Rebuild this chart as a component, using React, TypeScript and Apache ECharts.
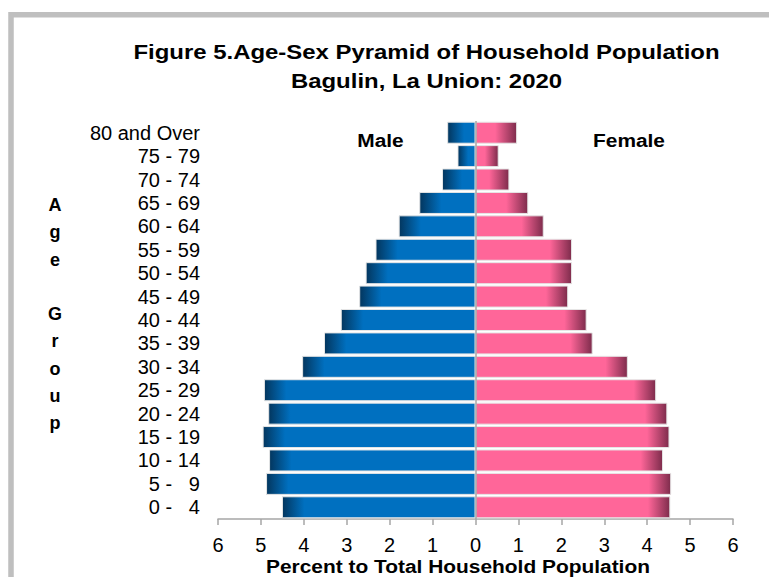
import React, { useEffect, useRef } from 'react';
import * as echarts from 'echarts';

const ageGroups = [
  '0 -   4', '5 -   9', '10 - 14', '15 - 19', '20 - 24', '25 - 29', '30 - 34', '35 - 39',
  '40 - 44', '45 - 49', '50 - 54', '55 - 59', '60 - 64', '65 - 69', '70 - 74', '75 - 79', '80 and Over',
];
const malePct = [4.51, 4.88, 4.81, 4.96, 4.83, 4.93, 4.04, 3.53, 3.14, 2.71, 2.56, 2.33, 1.79, 1.31, 0.78, 0.42, 0.66];
const femalePct = [4.54, 4.56, 4.37, 4.52, 4.47, 4.21, 3.55, 2.73, 2.59, 2.16, 2.25, 2.25, 1.59, 1.23, 0.79, 0.54, 0.97];

const titleLines = ['Figure 5.Age-Sex Pyramid of Household Population', 'Bagulin, La Union: 2020'];
const xAxisTitle = 'Percent to Total Household Population';
const yAxisTitle = 'A\ng\ne\n\nG\nr\no\nu\np';

const FONT = '"Liberation Sans", Arial, sans-serif';
const GRID = { left: 218, right: 36, top: 121, bottom: 58 };
const X_MAX = 6;
const PX_PER_UNIT = (769 - GRID.left - GRID.right) / (2 * X_MAX);
const FADE_PX = 22;

function maleColor(v: number) {
  const s = Math.min(FADE_PX / (v * PX_PER_UNIT), 0.6);
  return new echarts.graphic.LinearGradient(0, 0, 1, 0, [
    { offset: 0, color: '#03365e' },
    { offset: s, color: '#0070c0' },
    { offset: 1, color: '#0070c0' },
  ]);
}
function femaleColor(v: number) {
  const s = Math.min(FADE_PX / (v * PX_PER_UNIT), 0.6);
  return new echarts.graphic.LinearGradient(0, 0, 1, 0, [
    { offset: 0, color: '#ff6699' },
    { offset: 1 - s, color: '#ff6699' },
    { offset: 1, color: '#7e2c4c' },
  ]);
}

export default function App() {
  const ref = useRef<HTMLDivElement>(null);
  useEffect(() => {
    if (!ref.current) return;
    const chart = echarts.init(ref.current, null, { renderer: 'svg' });
    const option: any = {
      animation: false,
      backgroundColor: '#ffffff',
      textStyle: { fontFamily: FONT },
      grid: { ...GRID, containLabel: false },
      xAxis: {
        type: 'value',
        min: -X_MAX,
        max: X_MAX,
        interval: 1,
        axisLine: { show: true, lineStyle: { color: '#a6a6a6', width: 1.5 } },
        axisTick: { show: true, length: 6, lineStyle: { color: '#a6a6a6', width: 1.5 } },
        splitLine: { show: false },
        axisLabel: {
          color: '#000',
          fontSize: 20,
          fontFamily: FONT,
          margin: 16,
          formatter: (v: number) => String(Math.abs(v)),
        },
      },
      yAxis: {
        type: 'category',
        data: ageGroups,
        axisLine: { show: false },
        axisTick: { show: false },
        splitLine: { show: false },
        axisLabel: { color: '#000', fontSize: 20, fontFamily: FONT, margin: 18, align: 'right', interval: 0 },
      },
      series: [
        {
          name: 'Male',
          type: 'bar',
          stack: 'pop',
          barCategoryGap: '6%',
          data: malePct.map((v) => ({
            value: -v,
            itemStyle: { color: maleColor(v), borderColor: '#e6e6e6', borderWidth: 1 },
          })),
          markLine: {
            silent: true,
            symbol: ['none', 'none'],
            label: { show: false },
            lineStyle: { color: '#a6a6a6', width: 1.5, type: 'solid' },
            data: [{ xAxis: 0 }],
          },
        },
        {
          name: 'Female',
          type: 'bar',
          stack: 'pop',
          barCategoryGap: '6%',
          data: femalePct.map((v) => ({
            value: v,
            itemStyle: { color: femaleColor(v), borderColor: '#e6e6e6', borderWidth: 1 },
          })),
        },
      ],
      graphic: [
        {
          type: 'rect',
          silent: true,
          z: -10,
          shape: { x: 11, y: 14.8, width: 1200, height: 1200 },
          style: { fill: 'none', stroke: '#bfbfbf', lineWidth: 5.5 },
        },
        {
          type: 'text', x: 426.5, y: 52.5, scaleX: 1.14,
          style: { text: titleLines[0], font: `bold 21px ${FONT}`, fill: '#000', textAlign: 'center', textVerticalAlign: 'middle' },
        },
        {
          type: 'text', x: 426.5, y: 81, scaleX: 1.14,
          style: { text: titleLines[1], font: `bold 21px ${FONT}`, fill: '#000', textAlign: 'center', textVerticalAlign: 'middle' },
        },
        {
          type: 'text', x: 380.5, y: 141, scaleX: 1.16,
          style: { text: 'Male', font: `bold 18px ${FONT}`, fill: '#000', textAlign: 'center', textVerticalAlign: 'middle' },
        },
        {
          type: 'text', x: 629, y: 141, scaleX: 1.16,
          style: { text: 'Female', font: `bold 18px ${FONT}`, fill: '#000', textAlign: 'center', textVerticalAlign: 'middle' },
        },
        {
          type: 'text', x: 458, y: 566, scaleX: 1.1,
          style: { text: xAxisTitle, font: `bold 19px ${FONT}`, fill: '#000', textAlign: 'center', textVerticalAlign: 'middle' },
        },
        {
          type: 'text', x: 55, y: 314,
          style: { text: yAxisTitle, font: `bold 18px ${FONT}`, fill: '#000', textAlign: 'center', textVerticalAlign: 'middle', lineHeight: 27.25 },
        },
      ],
    };
    chart.setOption(option);
    return () => chart.dispose();
  }, []);
  return <div ref={ref} style={{ position: 'fixed', left: 0, top: 0, width: 769, height: 577 }} />;
}
